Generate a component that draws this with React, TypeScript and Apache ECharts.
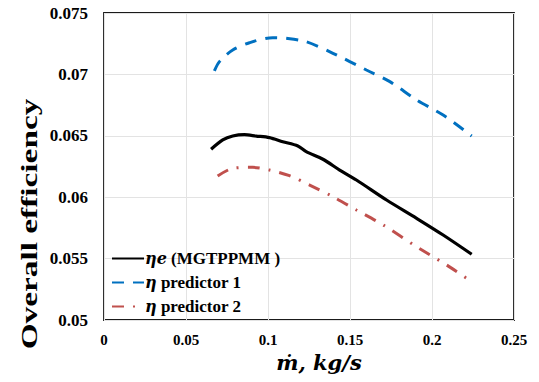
import React, { useEffect, useRef } from "react";
import * as echarts from "echarts";

const xTicks = [0, 0.05, 0.1, 0.15, 0.2, 0.25];
const yTicks = [0.05, 0.055, 0.06, 0.065, 0.07, 0.075];

const etaEX = [0.0653, 0.0724, 0.0785, 0.0856, 0.0928, 0.1009, 0.109, 0.1182, 0.1233, 0.1335, 0.1437, 0.1539, 0.1723, 0.1906, 0.2068, 0.2242];
const etaEY = [0.0639, 0.06466, 0.06498, 0.06509, 0.06498, 0.06485, 0.06452, 0.06417, 0.06371, 0.06309, 0.06221, 0.0614, 0.05977, 0.05828, 0.05692, 0.05535];

const pred1X = [0.0673, 0.0704, 0.0785, 0.0887, 0.1029, 0.1111, 0.1233, 0.1396, 0.16, 0.1743, 0.1906, 0.2068, 0.2242];
const pred1Y = [0.07028, 0.07104, 0.07199, 0.07258, 0.07299, 0.07294, 0.07266, 0.07172, 0.07036, 0.06941, 0.06792, 0.06669, 0.06498];

const pred2X = [0.0693, 0.0785, 0.0907, 0.1009, 0.1131, 0.1254, 0.1396, 0.1539, 0.1702, 0.1906, 0.2089, 0.2242];
const pred2Y = [0.06173, 0.06235, 0.06243, 0.06221, 0.06175, 0.06099, 0.06004, 0.05896, 0.05774, 0.05597, 0.05448, 0.05312];

const seriesNames = ["etaE", "pred1", "pred2"];
const yTitle = "Overall efficiency";
const xTitle = "ṁ, kg/s";

const zip = (xs: number[], ys: number[]) => xs.map((x, i) => [x, ys[i]]);

export default function App() {
  const ref = useRef<HTMLDivElement>(null);
  useEffect(() => {
    if (!ref.current) return;
    const chart = echarts.init(ref.current, null, { renderer: "svg" });
    const serif = "'Liberation Serif', 'Times New Roman', serif";
    const mathFont = "'DejaVu Serif', serif";
    chart.setOption({
      animation: false,
      backgroundColor: "#fff",
      grid: {
        left: 104,
        right: 25,
        top: 13,
        bottom: 62,
        show: true,
        borderColor: "#1a1a1a",
        borderWidth: 1.8,
        backgroundColor: "transparent",
      },
      graphic: [
        {
          type: "text",
          x: 29,
          y: 224,
          rotation: Math.PI / 2,
          scaleX: 1.45,
          style: {
            text: yTitle,
            fontFamily: serif,
            fontWeight: "bold",
            fontSize: 23,
            fill: "#000",
            textAlign: "center",
            textVerticalAlign: "middle",
          },
        },
      ],
      xAxis: {
        type: "value",
        min: xTicks[0],
        max: xTicks[xTicks.length - 1],
        interval: 0.05,
        axisLine: { show: false },
        axisTick: { show: false },
        splitLine: { show: true, lineStyle: { color: "#e3e3e3", width: 1 } },
        axisLabel: {
          margin: 12,
          fontFamily: serif,
          fontWeight: "bold",
          fontSize: 15,
          color: "#000",
          formatter: (v: number) => String(+v.toFixed(3)),
        },
        name: xTitle,
        nameLocation: "middle",
        nameGap: 29,
        nameTextStyle: {
          fontFamily: mathFont,
          fontStyle: "italic",
          fontWeight: "bold",
          fontSize: 21,
          color: "#000",
          padding: [0, 0, 0, 20],
        },
      },
      yAxis: {
        type: "value",
        min: yTicks[0],
        max: yTicks[yTicks.length - 1],
        interval: 0.005,
        axisLine: { show: false },
        axisTick: { show: false },
        splitLine: { show: true, lineStyle: { color: "#e3e3e3", width: 1 } },
        axisLabel: {
          margin: 16,
          fontFamily: serif,
          fontWeight: "bold",
          fontSize: 17,
          color: "#000",
          formatter: (v: number) => String(+v.toFixed(3)),
        },
      },
      legend: {
        orient: "vertical",
        left: 106,
        top: 245,
        itemWidth: 32,
        itemHeight: 10,
        itemGap: 7,
        data: seriesNames,
        itemStyle: { opacity: 0 },
        formatter: (name: string) => {
          if (name === "etaE") return "{g|η}{g|e} {t|(MGTPPMM )}";
          if (name === "pred1") return "{g|η} {t|predictor 1}";
          return "{g|η} {t|predictor 2}";
        },
        textStyle: {
          color: "#000",
          fontFamily: serif,
          fontWeight: "bold",
          fontSize: 17,
          padding: [0, 0, 0, -4],
          rich: {
            g: { fontFamily: mathFont, fontStyle: "italic", fontWeight: "bold", fontSize: 16, color: "#000" },
            t: { fontFamily: serif, fontWeight: "bold", fontSize: 17, color: "#000" },
          },
        },
      },
      series: [
        {
          name: "etaE",
          type: "line",
          data: zip(etaEX, etaEY),
          smooth: 0.3,
          showSymbol: false,
          symbol: "none",
          lineStyle: { color: "#000", width: 3.2 },
          itemStyle: { color: "#000" },
        },
        {
          name: "pred1",
          type: "line",
          data: zip(pred1X, pred1Y),
          smooth: 0.3,
          showSymbol: false,
          symbol: "none",
          lineStyle: { color: "#0070C0", width: 3, type: [12, 9] },
          itemStyle: { color: "#0070C0" },
        },
        {
          name: "pred2",
          type: "line",
          data: zip(pred2X, pred2Y),
          smooth: 0.3,
          showSymbol: false,
          symbol: "none",
          lineStyle: { color: "#C0504D", width: 3, type: [12, 9, 2, 9] },
          itemStyle: { color: "#C0504D" },
        },
      ],
    });
    return () => chart.dispose();
  }, []);
  return <div ref={ref} style={{ width: 539, height: 382, position: "absolute", left: 0, top: 0 }} />;
}
